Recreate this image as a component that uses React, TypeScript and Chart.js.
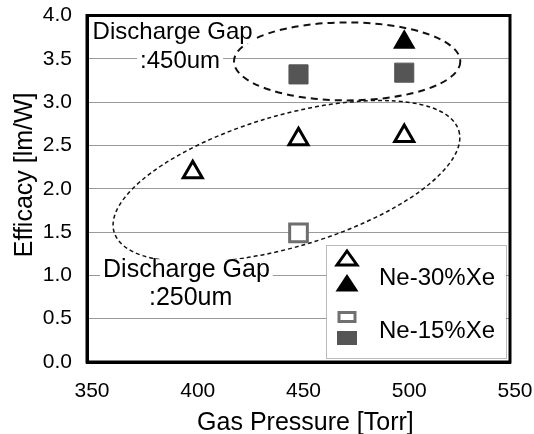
import React, { useEffect, useRef } from 'react';
import { Chart, registerables } from 'chart.js';

Chart.register(...registerables);

const FONT = "'Liberation Sans', Arial, Helvetica, sans-serif";

// ---- data ----
const ne30Gap250X = [400, 450, 500];
const ne30Gap250Y = [2.19, 2.57, 2.61];
const ne30Gap450X = [500];
const ne30Gap450Y = [3.69];
const ne15Gap250X = [450];
const ne15Gap250Y = [1.49];
const ne15Gap450X = [450, 500];
const ne15Gap450Y = [3.32, 3.34];

const legendLabels = ['Ne-30%Xe', 'Ne-15%Xe'];
const xTitle = 'Gas Pressure [Torr]';
const yTitle = 'Efficacy [lm/W]';
const gapTexts = ['Discharge Gap', ':450um', 'Discharge Gap', ':250um'];

// annotation placement in data coordinates
const textPos = [
  { x: 390.5, y: 3.8, size: 24 },
  { x: 394, y: 3.47, size: 24 },
  { x: 397, y: 1.06, size: 25 },
  { x: 399, y: 0.74, size: 25 },
];
const upperEllipse = { cx: 473, cy: 3.47, rx: 53.5, ry: 0.45 };
const lowerEllipse = { x1: 362.8, y1: 1.5, x2: 525.8, y2: 2.67, ratio: 0.366 };

const toPts = (xs: number[], ys: number[]) => xs.map((x, i) => ({ x, y: ys[i] }));

const annotationPlugin = {
  id: 'gapAnnotations',
  beforeDatasetsDraw(chart: any) {
    const { ctx, scales } = chart;
    const sx = scales.x;
    const sy = scales.y;
    ctx.save();
    // upper ellipse
    ctx.beginPath();
    ctx.setLineDash([7, 5]);
    ctx.lineWidth = 2;
    ctx.strokeStyle = '#111';
    const ucx = sx.getPixelForValue(upperEllipse.cx);
    const ucy = sy.getPixelForValue(upperEllipse.cy);
    const urx = sx.getPixelForValue(upperEllipse.cx + upperEllipse.rx) - ucx;
    const ury = sy.getPixelForValue(upperEllipse.cy - upperEllipse.ry) - ucy;
    ctx.ellipse(ucx, ucy, urx, ury, 0, 0, Math.PI * 2);
    ctx.stroke();
    // lower tilted ellipse
    const p1x = sx.getPixelForValue(lowerEllipse.x1);
    const p1y = sy.getPixelForValue(lowerEllipse.y1);
    const p2x = sx.getPixelForValue(lowerEllipse.x2);
    const p2y = sy.getPixelForValue(lowerEllipse.y2);
    const lcx = (p1x + p2x) / 2;
    const lcy = (p1y + p2y) / 2;
    const a = Math.hypot(p2x - p1x, p2y - p1y) / 2;
    const ang = Math.atan2(p2y - p1y, p2x - p1x);
    ctx.beginPath();
    ctx.setLineDash([4, 3]);
    ctx.lineWidth = 1.5;
    ctx.ellipse(lcx, lcy, a, a * lowerEllipse.ratio, ang, 0, Math.PI * 2);
    ctx.stroke();
    ctx.setLineDash([]);
    // texts with white background
    ctx.textAlign = 'center';
    ctx.textBaseline = 'middle';
    gapTexts.forEach((t, i) => {
      ctx.font = `${textPos[i].size}px ${FONT}`;
      const x = sx.getPixelForValue(textPos[i].x);
      const y = sy.getPixelForValue(textPos[i].y);
      const w = ctx.measureText(t).width;
      ctx.fillStyle = '#fff';
      ctx.fillRect(x - w / 2 - 3, y - 11, w + 6, 22);
      ctx.fillStyle = '#000';
      ctx.fillText(t, x, y);
    });
    ctx.restore();
  },
  afterDatasetsDraw(chart: any) {
    const { ctx, chartArea } = chart;
    ctx.save();
    // frame
    ctx.lineWidth = 3;
    ctx.strokeStyle = '#000';
    ctx.strokeRect(chartArea.left, chartArea.top, chartArea.right - chartArea.left, chartArea.bottom - chartArea.top);
    // legend box
    const bw = 180;
    const bh = 113;
    const bx = chartArea.right - 4 - bw;
    const by = chartArea.bottom - 4 - bh;
    ctx.fillStyle = '#fff';
    ctx.fillRect(bx, by, bw, bh);
    ctx.lineWidth = 1;
    ctx.strokeStyle = '#777';
    ctx.setLineDash([1, 1]);
    ctx.strokeRect(bx + 0.5, by + 0.5, bw, bh);
    ctx.setLineDash([]);
    const sxp = bx + 21;
    const tri = (cy: number, filled: boolean) => {
      ctx.beginPath();
      if (filled) {
        ctx.moveTo(sxp, cy - 9);
        ctx.lineTo(sxp + 11.5, cy + 8.5);
        ctx.lineTo(sxp - 11.5, cy + 8.5);
      } else {
        ctx.moveTo(sxp, cy - 7);
        ctx.lineTo(sxp + 10, cy + 7);
        ctx.lineTo(sxp - 10, cy + 7);
      }
      ctx.closePath();
      if (filled) {
        ctx.fillStyle = '#000';
        ctx.fill();
      } else {
        ctx.fillStyle = '#fff';
        ctx.fill();
        ctx.lineWidth = 3;
        ctx.strokeStyle = '#000';
        ctx.stroke();
      }
    };
    tri(by + 13, false);
    tri(by + 38, true);
    // open rect
    ctx.fillStyle = '#fff';
    ctx.fillRect(sxp - 8, by + 72 - 4.5, 16, 9);
    ctx.lineWidth = 3;
    ctx.strokeStyle = '#707070';
    ctx.strokeRect(sxp - 8, by + 72 - 4.5, 16, 9);
    // filled rect
    ctx.fillStyle = '#555';
    ctx.fillRect(sxp - 10, by + 93 - 7, 20, 14);
    // labels
    ctx.fillStyle = '#000';
    ctx.font = `24px ${FONT}`;
    ctx.textAlign = 'left';
    ctx.textBaseline = 'middle';
    ctx.fillText(legendLabels[0], bx + 53, by + 33);
    ctx.fillText(legendLabels[1], bx + 53, by + 86);
    ctx.restore();
  },
};

export default function App() {
  const ref = useRef<HTMLCanvasElement | null>(null);
  useEffect(() => {
    if (!ref.current) return;
    const chart = new Chart(ref.current, {
      type: 'scatter',
      data: {
        datasets: [
          {
            label: 'Ne-30%Xe 250um',
            data: toPts(ne30Gap250X, ne30Gap250Y),
            pointStyle: 'triangle',
            pointRadius: 11,
            borderWidth: 3,
            borderColor: '#000',
            backgroundColor: '#fff',
          },
          {
            label: 'Ne-30%Xe 450um',
            data: toPts(ne30Gap450X, ne30Gap450Y),
            pointStyle: 'triangle',
            pointRadius: 11,
            borderWidth: 2,
            borderColor: '#000',
            backgroundColor: '#000',
          },
          {
            label: 'Ne-15%Xe 250um',
            data: toPts(ne15Gap250X, ne15Gap250Y),
            pointStyle: 'rect',
            pointRadius: 12.5,
            borderWidth: 3,
            borderColor: '#6e6e6e',
            backgroundColor: '#fff',
          },
          {
            label: 'Ne-15%Xe 450um',
            data: toPts(ne15Gap450X, ne15Gap450Y),
            pointStyle: 'rect',
            pointRadius: 13.5,
            borderWidth: 1,
            borderColor: '#555',
            backgroundColor: '#555',
          },
        ],
      },
      options: {
        responsive: false,
        animation: false,
        events: [],
        layout: { padding: { top: 15, right: 24, left: 0, bottom: 0 } },
        plugins: { legend: { display: false }, tooltip: { enabled: false } },
        scales: {
          x: {
            type: 'linear',
            min: 350,
            max: 550,
            ticks: {
              stepSize: 50,
              color: '#000',
              font: { family: FONT, size: 21 },
              padding: 0,
              labelOffset: 5,
            },
            grid: {
              display: true,
              drawOnChartArea: false,
              drawTicks: true,
              tickLength: 17,
              tickColor: 'rgba(0,0,0,0)',
            },
            border: { display: true, color: '#000', width: 3 },
            title: {
              display: true,
              text: '  ' + xTitle,
              color: '#000',
              font: { family: FONT, size: 25, lineHeight: 1 },
              padding: { top: 0, bottom: -2 },
            },
            afterFit: (s: any) => {
              s.height = 72;
            },
          },
          y: {
            min: 0,
            max: 4,
            ticks: {
              stepSize: 0.5,
              color: '#000',
              font: { family: FONT, size: 21 },
              padding: 0,
              callback: (v: any) => Number(v).toFixed(1),
            },
            grid: {
              color: '#9a9a9a',
              lineWidth: 1,
              drawTicks: true,
              tickLength: 15,
              tickColor: 'rgba(0,0,0,0)',
            },
            border: { display: true, color: '#000', width: 3 },
            title: {
              display: true,
              text: '    ' + yTitle,
              color: '#000',
              font: { family: FONT, size: 25, lineHeight: 1 },
              padding: { top: 13, bottom: 0 },
            },
            afterFit: (s: any) => {
              s.width = 87;
            },
          },
        },
      },
      plugins: [annotationPlugin],
    } as any);
    return () => chart.destroy();
  }, []);
  return (
    <div style={{ position: 'absolute', left: 0, top: 0, width: 534, height: 434, background: '#fff' }}>
      <canvas ref={ref} width={534} height={434} style={{ display: 'block' }} />
    </div>
  );
}
